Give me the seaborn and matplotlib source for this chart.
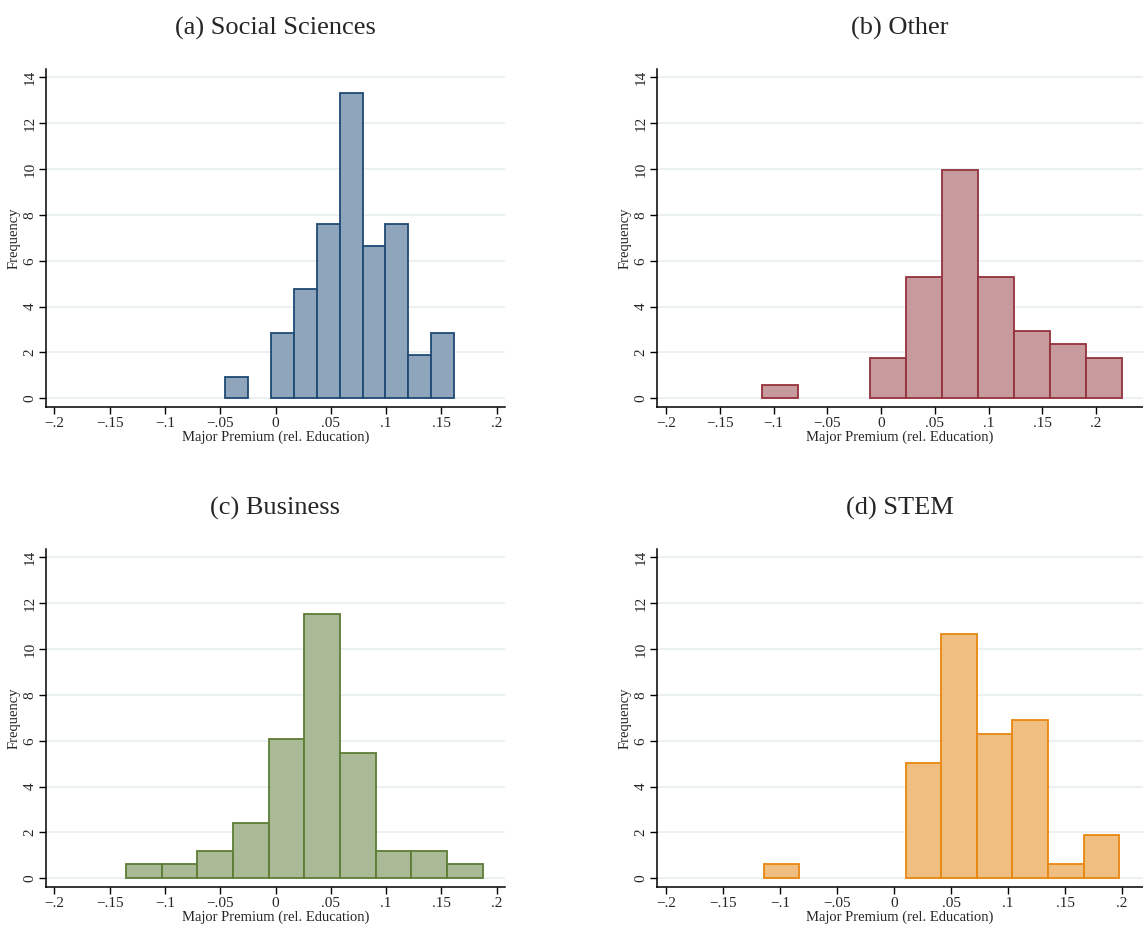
import numpy as np
import pandas as pd
import matplotlib
matplotlib.use('Agg')
import matplotlib.pyplot as plt
import seaborn as sns

# Bar heights (Stata-style frequency histograms)
titles = ['(a) Social Sciences', '(b) Other', '(c) Business', '(d) STEM']

# first bin edge, bin width, heights
start_a, width_a = -0.0454, 0.02068
heights_a = [0.95, 0, 2.85, 4.75, 7.6, 13.3, 6.65, 7.6, 1.9, 2.85]

start_b, width_b = -0.1104, 0.03349
heights_b = [0.6, 0, 0, 1.77, 5.28, 9.97, 5.28, 2.94, 2.35, 1.77]

start_c, width_c = -0.1352, 0.03225
heights_c = [0.61, 0.61, 1.21, 2.43, 6.08, 11.54, 5.48, 1.21, 1.21, 0.61]

start_d, width_d = -0.1143, 0.03117
heights_d = [0.64, 0, 0, 0, 5.04, 10.67, 6.28, 6.92, 0.64, 1.88]

x_ticks = [-0.2, -0.15, -0.1, -0.05, 0, 0.05, 0.1, 0.15, 0.2]
x_tick_labels = ['\u2212.2', '\u2212.15', '\u2212.1', '\u2212.05', '0', '.05', '.1', '.15', '.2']
y_ticks = [0, 2, 4, 6, 8, 10, 12, 14]

fills = ['#8fa5bb', '#c79a9d', '#abba96', '#f0be80']
edges = ['#1f4a75', '#94313c', '#5b7d35', '#e8870e']

sns.set_style('white')
plt.rcParams['font.family'] = ['Liberation Serif', 'DejaVu Serif']

W, H = 1143, 927
fig = plt.figure(figsize=(W / 100, H / 100), dpi=100)

# axes boxes in pixels: left, right, top, bottom
boxes = [(46, 505, 69.3, 407.3), (657.3, 1143, 69.3, 407.3),
         (46, 505, 549.3, 887.3), (657.3, 1143, 549.3, 887.3)]
xlims = [(-0.2075, 0.2075), (-0.2081, 0.2437), (-0.2075, 0.2075), (-0.2076, 0.2184)]

panels = [(start_a, width_a, heights_a), (start_b, width_b, heights_b),
          (start_c, width_c, heights_c), (start_d, width_d, heights_d)]

for i, (start, width, heights) in enumerate(panels):
    l, r, t, b = boxes[i]
    ax = fig.add_axes([l / W, 1 - b / H, (r - l) / W, (b - t) / H])
    n = len(heights)
    centers = start + width * (np.arange(n) + 0.5)
    df = pd.DataFrame({'premium': centers, 'freq': heights})
    sns.histplot(data=df, x='premium', weights='freq', bins=n,
                 binrange=(start, start + n * width), ax=ax,
                 color=fills[i], edgecolor=edges[i], linewidth=1.3, alpha=1)
    for p in ax.patches:
        if p.get_height() == 0:
            p.set_visible(False)

    ax.set_xlim(*xlims[i])
    ax.set_ylim(-0.39, 14.35)
    ax.set_yticks(y_ticks)
    ax.set_yticklabels([str(v) for v in y_ticks], rotation=90, va='center')
    ax.set_xticks(x_ticks)
    ax.set_xticklabels(x_tick_labels)
    ax.grid(axis='y', color='#e6eef0', linewidth=1.1)
    ax.set_axisbelow(True)
    ax.tick_params(axis='both', direction='out', length=5, width=1, color='black',
                   labelsize=11, pad=2, bottom=True, left=True)
    for s in ['top', 'right']:
        ax.spines[s].set_visible(False)
    for s in ['left', 'bottom']:
        ax.spines[s].set_color('black')
        ax.spines[s].set_linewidth(1.1)
    ax.set_xlabel('Major Premium (rel. Education)', fontsize=10.5, labelpad=0.5)
    ax.set_ylabel('Frequency', fontsize=10.5, labelpad=2)
    ax.set_title(titles[i], fontsize=19, pad=25)

fig.savefig('out.png', dpi=100)
